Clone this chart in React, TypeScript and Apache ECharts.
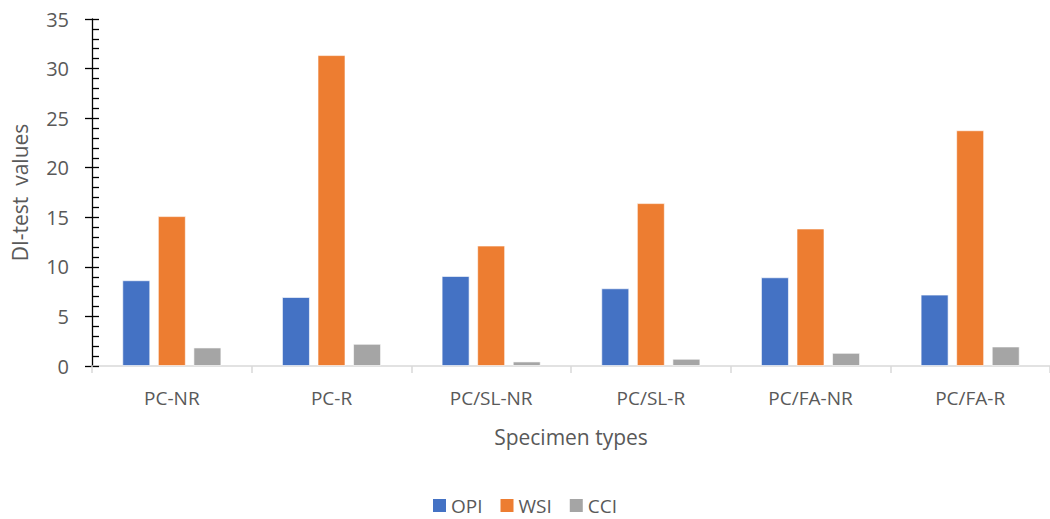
import React, { useEffect, useRef } from "react";
import * as echarts from "echarts";

const categories = ["PC-NR", "PC-R", "PC/SL-NR", "PC/SL-R", "PC/FA-NR", "PC/FA-R"];
const opi = [8.65, 6.96, 9.08, 7.84, 8.95, 7.2];
const wsi = [15.12, 31.36, 12.15, 16.43, 13.87, 23.78];
const cci = [1.87, 2.24, 0.46, 0.73, 1.33, 1.97];
const seriesNames = ["OPI", "WSI", "CCI"];
const colors = ["#4472C4", "#ED7D31", "#A5A5A5"];

const FONT = "'Open Sans', sans-serif";
const TXT = "#595959";

export default function App() {
  const ref = useRef<HTMLDivElement>(null);
  useEffect(() => {
    document.body.style.margin = "0";
    const chart = echarts.init(ref.current!, null, { renderer: "svg" });
    const values = [opi, wsi, cci];
    chart.setOption({
      animation: false,
      backgroundColor: "#ffffff",
      grid: { left: 92, top: 19, width: 959, height: 347 },
      legend: {
        top: 491,
        left: "center",
        itemWidth: 13,
        itemHeight: 13,
        itemGap: 18,
        itemStyle: { borderWidth: 0 },
        icon: "rect",
        textStyle: { color: TXT, fontSize: 19, fontFamily: FONT },
        data: seriesNames,
      },
      xAxis: {
        type: "category",
        data: categories,
        name: "Specimen types",
        nameLocation: "middle",
        nameGap: 60,
        nameTextStyle: { color: TXT, fontSize: 21, fontFamily: FONT },
        axisLine: { lineStyle: { color: "#D9D9D9", width: 1.5 } },
        axisTick: { show: true, length: 7, lineStyle: { color: "#D9D9D9", width: 1.5 } },
        axisLabel: { color: TXT, fontSize: 19, fontFamily: FONT, margin: 22 },
      },
      yAxis: [
        {
          type: "value",
          min: 0,
          max: 35,
          interval: 5,
          position: "left",
          name: "DI-test  values",
          nameLocation: "middle",
          nameGap: 62,
          nameTextStyle: { color: TXT, fontSize: 21, fontFamily: FONT },
          axisLine: { show: true, lineStyle: { color: "#000", width: 1.3 } },
          axisTick: { show: true, inside: true, length: 7, lineStyle: { color: "#000", width: 1.3 } },
          minorTick: { show: true, splitNumber: 5, length: 7, lineStyle: { color: "#000", width: 1.3 } },
          splitLine: { show: false },
          axisLabel: { color: TXT, fontSize: 20, fontFamily: FONT, margin: 23 },
        },
        {
          type: "value",
          min: 0,
          max: 35,
          interval: 5,
          position: "left",
          offset: 0,
          axisLine: { show: false },
          axisTick: { show: true, inside: false, length: 7, lineStyle: { color: "#000", width: 1.3 } },
          splitLine: { show: false },
          axisLabel: { show: false },
        },
      ],
      series: seriesNames.map((n, i) => ({
        name: n,
        type: "bar",
        yAxisIndex: 0,
        data: values[i],
        barWidth: 28,
        barGap: "27%",
        itemStyle: { color: colors[i], borderColor: "rgba(255,255,255,0.6)", borderWidth: 1 },
      })),
    });
    return () => chart.dispose();
  }, []);
  return <div ref={ref} style={{ width: 1050, height: 519 }} />;
}
